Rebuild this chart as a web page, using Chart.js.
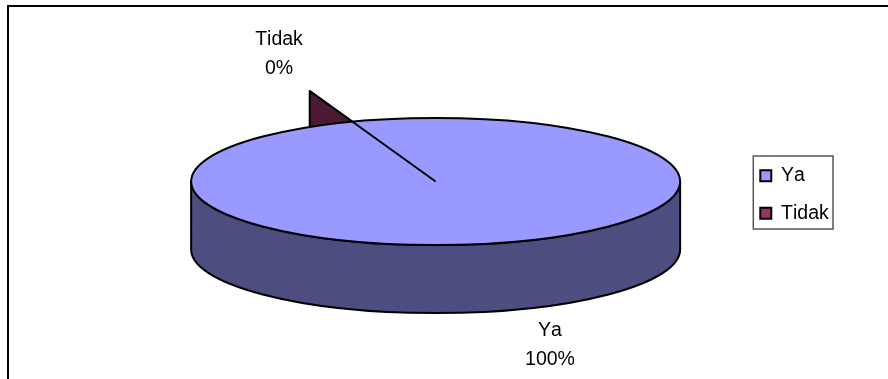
<!DOCTYPE html>
<html>
<head>
<meta charset="utf-8">
<title>Ya / Tidak</title>
<script src="https://cdn.jsdelivr.net/npm/chart.js@4"></script>
<style>
  html, body { margin: 0; background: #fff; }
  canvas { display: block; }
</style>
</head>
<body>
<canvas id="chart" width="888" height="379"></canvas>
<script>
const categories = ["Ya", "Tidak"];
const values = [100, 0];
const sliceColors = ["#9999FF", "#993366"];
const sideColors = ["#4D4D80", "#4D1933"];

const FONT = "Liberation Sans, Arial, sans-serif";
const FONT_SIZE = 19.5;
const TILT = 0.26;       // vertical squash of the pie disc
const DEPTH = 68;        // height of the disc wall
const SPIKE = 36;        // height of the zero-size slice's wall
const LEGEND_DROP = 13;  // legend sits a little below the disc centre

const total = values.reduce((a, b) => a + b, 0);
const percent = v => `${Math.round((v / total) * 100)}%`;

// label centre, per slice
const labelAnchors = [
  { x: 550, y: 336 },
  { x: 279, y: 45 }
];

const pie3d = {
  id: "pie3d",
  afterLayout(chart) {
    const { legend } = chart;
    legend.top += LEGEND_DROP;
    legend.bottom += LEGEND_DROP;
    legend.legendHitBoxes.forEach(b => { b.top += LEGEND_DROP; });
  },
  beforeDraw(chart) {
    const { ctx } = chart;
    ctx.fontKerning = "none";
    // outer frame, runs off the right and bottom edges
    ctx.save();
    ctx.strokeStyle = "#000";
    ctx.lineWidth = 2;
    ctx.beginPath();
    ctx.moveTo(8, chart.height);
    ctx.lineTo(8, 6);
    ctx.lineTo(chart.width, 6);
    ctx.stroke();
    ctx.restore();
  },
  beforeDatasetsDraw(chart) {
    const { ctx } = chart;
    const [ya, tidak] = chart.getDatasetMeta(0).data;
    const { x, y, outerRadius: r } = ya;
    const ry = r * TILT;

    ctx.save();
    ctx.lineWidth = 2;
    ctx.strokeStyle = "#000";
    ctx.lineJoin = "round";

    // wall of the disc
    ctx.beginPath();
    ctx.ellipse(x, y, r, ry, 0, 0, Math.PI);
    ctx.lineTo(x - r, y + DEPTH);
    ctx.ellipse(x, y + DEPTH, r, ry, 0, Math.PI, 0, true);
    ctx.closePath();
    ctx.fillStyle = sideColors[0];
    ctx.fill();
    ctx.stroke();

    // wall of the empty slice, its lower part is hidden by the top face
    const rimX = x + r * Math.cos(tidak.startAngle);
    const rimY = y + ry * Math.sin(tidak.startAngle);
    ctx.beginPath();
    ctx.moveTo(x, y);
    ctx.lineTo(rimX, rimY);
    ctx.lineTo(rimX, rimY - SPIKE);
    ctx.closePath();
    ctx.fillStyle = sideColors[1];
    ctx.fill();
    ctx.stroke();
    ctx.restore();

    // top face goes through the library's arcs, squashed
    ctx.save();
    ctx.translate(x, y);
    ctx.scale(1, TILT);
    ctx.translate(-x, -y);
  },
  afterDatasetsDraw(chart) {
    const { ctx } = chart;
    ctx.restore();

    const [ya, tidak] = chart.getDatasetMeta(0).data;
    const { x, y, outerRadius: r } = ya;
    const ry = r * TILT;
    const rimX = x + r * Math.cos(tidak.startAngle);
    const rimY = y + ry * Math.sin(tidak.startAngle);

    ctx.save();
    ctx.lineWidth = 2;
    ctx.strokeStyle = "#000";
    ctx.beginPath();
    ctx.ellipse(x, y, r, ry, 0, 0, Math.PI * 2);
    ctx.stroke();
    ctx.beginPath();
    ctx.moveTo(x, y);
    ctx.lineTo(rimX, rimY - SPIKE);
    ctx.stroke();

    // slice labels
    ctx.fillStyle = "#000";
    ctx.font = `${FONT_SIZE}px ${FONT}`;
    ctx.textAlign = "center";
    ctx.textBaseline = "alphabetic";
    categories.forEach((name, i) => {
      const a = labelAnchors[i];
      ctx.fillText(name, a.x, a.y);
      ctx.fillText(percent(values[i]), a.x, a.y + 28.5);
    });
    ctx.restore();
  },
  afterDraw(chart) {
    // box around the legend entries
    const { ctx, legend } = chart;
    const boxes = legend.legendHitBoxes;
    const first = boxes[0];
    const last = boxes[boxes.length - 1];
    const right = Math.max(...boxes.map(b => b.left + b.width));
    ctx.save();
    ctx.strokeStyle = "#555";
    ctx.lineWidth = 1.5;
    ctx.strokeRect(first.left - 7, first.top - 10, right - first.left + 12, last.top + last.height - first.top + 16);
    ctx.restore();
  }
};

new Chart(document.getElementById("chart"), {
  type: "pie",
  data: {
    labels: categories,
    datasets: [{
      data: values,
      backgroundColor: sliceColors,
      borderWidth: 0
    }]
  },
  options: {
    responsive: false,
    animation: false,
    rotation: -31,
    radius: 244.5,
    layout: { padding: { left: 129, top: 0, right: 50, bottom: 16 } },
    plugins: {
      tooltip: { enabled: false },
      legend: {
        position: "right",
        labels: {
          color: "#000",
          font: { family: FONT, size: FONT_SIZE },
          boxWidth: 11,
          boxHeight: 11,
          padding: 18,
          generateLabels(chart) {
            return Chart.overrides.pie.plugins.legend.labels.generateLabels(chart).map(item => ({
              ...item,
              strokeStyle: "#000",
              lineWidth: 2
            }));
          }
        },
        onClick: null
      }
    }
  },
  plugins: [pie3d]
});
</script>
</body>
</html>
